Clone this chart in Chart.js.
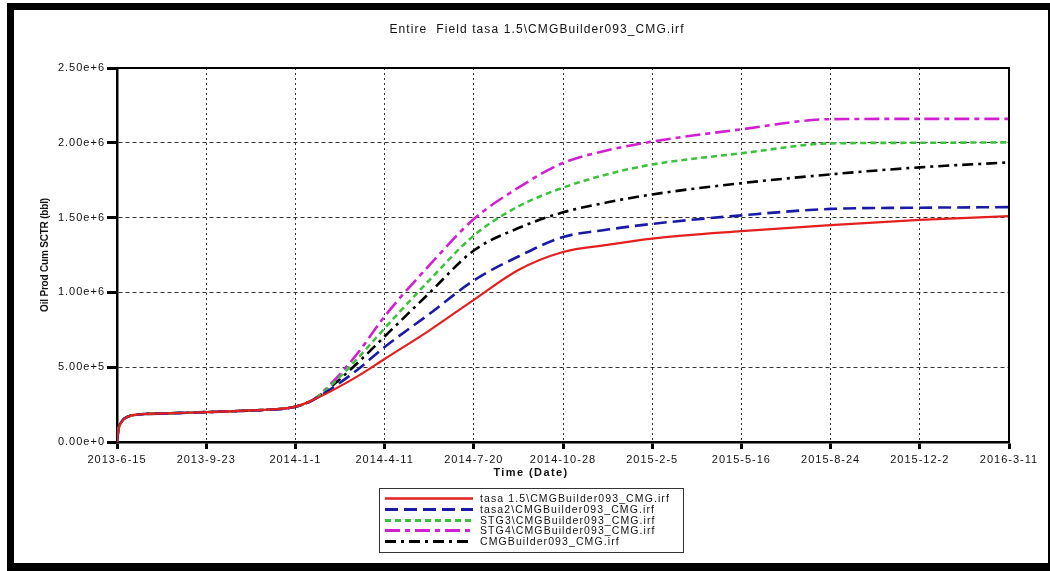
<!DOCTYPE html>
<html>
<head>
<meta charset="utf-8">
<script src="https://cdn.jsdelivr.net/npm/chart.js@4.4.0/dist/chart.umd.min.js"></script>
<style>
  html, body { margin:0; padding:0; background:#fff; }
  body { width:1050px; height:571px; position:relative; overflow:hidden; font-family:"Liberation Sans", Arial, sans-serif; }
  #wrap { position:absolute; left:0; top:0; width:1050px; height:571px; }
  #frame { position:absolute; left:7px; top:3px; right:0; bottom:0; border-left:7px solid #000; border-top:7px solid #000; border-right:2px solid #000; border-bottom:8px solid #000; pointer-events:none; }
  #title { position:absolute; left:337px; width:400px; top:22px; text-align:center; font-size:12px; letter-spacing:1.1px; color:#111; }
  #xtitle { position:absolute; left:431px; width:200px; top:466px; text-align:center; font-weight:bold; font-size:11px; letter-spacing:1.4px; color:#111; }
  #ytitle { position:absolute; left:-55px; width:200px; top:249px; text-align:center; font-weight:bold; font-size:10px; letter-spacing:-0.2px; color:#111; transform:rotate(-90deg); transform-origin:50% 50%; line-height:12px; }
  #legend { position:absolute; left:379px; top:488px; width:305px; height:65px; border:1px solid #333; box-sizing:border-box; }
  .row { position:absolute; left:0; height:11px; width:300px; }
  .row svg { position:absolute; left:5px; top:0; }
  .row span { position:absolute; left:100px; top:-1px; font-size:10.5px; letter-spacing:1.1px; color:#111; white-space:nowrap; line-height:12px; }
</style>
</head>
<body>
<div id="wrap"><canvas id="c"></canvas></div>
<div id="title">Entire&nbsp; Field tasa 1.5\CMGBuilder093_CMG.irf</div>
<div id="xtitle">Time (Date)</div>
<div id="ytitle">Oil Prod Cum SCTR (bbl)</div>
<div id="legend"></div>
<div id="frame"></div>
<script>
// x positions: days since 2013-6-15
const dayOffsets = [0, 1.5, 5, 12, 25, 55, 100, 150, 200, 220, 240, 270, 300, 350, 400, 450, 500, 550, 600, 700, 800, 900, 1000];

const tasa15   = [0, 80000, 135000, 169000, 184000, 191000, 200000, 211000, 236000, 282000, 340000, 440000, 555000, 745000, 950000, 1150000, 1270000, 1318000, 1360000, 1410000, 1450000, 1485000, 1510000];
const tasa2    = [0, 80000, 135000, 169000, 184000, 191000, 200000, 211000, 236000, 282000, 355000, 485000, 635000, 855000, 1080000, 1240000, 1370000, 1420000, 1458000, 1515000, 1558000, 1566000, 1570000];
const stg3     = [0, 80000, 135000, 169000, 184000, 191000, 200000, 211000, 236000, 282000, 380000, 560000, 760000, 1080000, 1380000, 1575000, 1700000, 1790000, 1855000, 1930000, 1996000, 2000000, 2003000];
const stg4     = [0, 80000, 135000, 169000, 184000, 191000, 200000, 211000, 236000, 282000, 390000, 595000, 840000, 1180000, 1490000, 1700000, 1865000, 1950000, 2008000, 2090000, 2158000, 2160000, 2160000];
const cmgBase  = [0, 80000, 135000, 169000, 184000, 191000, 200000, 211000, 236000, 282000, 370000, 530000, 705000, 995000, 1280000, 1430000, 1535000, 1602000, 1655000, 1730000, 1789000, 1836000, 1869000];

const seriesNames = [
  "tasa 1.5\\CMGBuilder093_CMG.irf",
  "tasa2\\CMGBuilder093_CMG.irf",
  "STG3\\CMGBuilder093_CMG.irf",
  "STG4\\CMGBuilder093_CMG.irf",
  "CMGBuilder093_CMG.irf"
];
const seriesValues = [tasa15, tasa2, stg3, stg4, cmgBase];
const seriesColors = ["#e3201f", "#1a1aa6", "#3cc23c", "#d21fd2", "#000000"];
const seriesDash   = [[], [13, 6], [6, 4], [15, 5, 5, 5], [11, 5, 3, 5]];
const seriesWidth  = [2.2, 2.6, 2.6, 2.6, 2.6];

const xTickLabels = ["2013-6-15", "2013-9-23", "2014-1-1", "2014-4-11", "2014-7-20", "2014-10-28", "2015-2-5", "2015-5-16", "2015-8-24", "2015-12-2", "2016-3-11"];
const yTickLabels = ["0.00e+0", "5.00e+5", "1.00e+6", "1.50e+6", "2.00e+6", "2.50e+6"];

const datasets = seriesNames.map((name, i) => ({
  label: name,
  data: dayOffsets.map((d, j) => ({ x: d, y: seriesValues[i][j] })),
  borderColor: seriesColors[i],
  borderWidth: seriesWidth[i],
  borderDash: seriesDash[i],
  pointRadius: 0,
  fill: false,
  cubicInterpolationMode: 'monotone'
}));

const tickFont = { family: "'Liberation Sans', Arial, sans-serif", size: 11 };

const spacingPlugin = {
  id: 'spacing',
  beforeInit(chart) { chart.ctx.letterSpacing = '1px'; },
  beforeDraw(chart) { chart.ctx.letterSpacing = '1px'; }
};
const framePlugin = {
  id: 'frameBox',
  afterDraw(chart) {
    const { ctx, chartArea: a } = chart;
    ctx.save();
    ctx.strokeStyle = '#000';
    ctx.lineWidth = 2;
    ctx.beginPath();
    ctx.moveTo(a.left, a.top);
    ctx.lineTo(a.right, a.top);
    ctx.lineTo(a.right, a.bottom);
    ctx.stroke();
    ctx.restore();
  }
};

new Chart(document.getElementById('c'), {
  type: 'line',
  data: { datasets },
  plugins: [spacingPlugin, framePlugin],
  options: {
    responsive: true,
    maintainAspectRatio: false,
    animation: false,
    layout: { padding: { left: 30, top: 68, right: 41, bottom: 107 } },
    plugins: { legend: { display: false }, title: { display: false }, tooltip: { enabled: false } },
    scales: {
      x: {
        type: 'linear',
        min: 0, max: 1000,
        afterFit(s) { s.height = 22; },
        afterBuildTicks(s) { s.ticks = xTickLabels.map((t, i) => ({ value: i * 100 })); },
        ticks: {
          autoSkip: false, maxRotation: 0, padding: 4.5, color: '#111', font: tickFont,
          callback: (v, i) => xTickLabels[i]
        },
        grid: { color: '#333', lineWidth: 1, tickLength: 7, tickWidth: 3, tickColor: '#000' },
        border: { display: true, color: '#000', width: 2.5, dash: [2, 3] }
      },
      y: {
        min: 0, max: 2500000,
        afterFit(s) { s.width = 87; },
        afterBuildTicks(s) { s.ticks = yTickLabels.map((t, i) => ({ value: i * 500000 })); },
        ticks: {
          padding: 2, color: '#111', font: tickFont,
          callback: (v, i) => yTickLabels[i]
        },
        grid: { color: '#333', lineWidth: 1, tickLength: 10, tickWidth: 3, tickColor: '#000' },
        border: { display: true, color: '#000', width: 2.5, dash: [4, 3] }
      }
    }
  }
});

// HTML legend built from the series arrays
const legend = document.getElementById('legend');
const rowTops = [4, 15, 25.5, 36, 46.5];
seriesNames.forEach((name, i) => {
  const row = document.createElement('div');
  row.className = 'row';
  row.style.top = rowTops[i] + 'px';
  const dash = seriesDash[i].length ? seriesDash[i].join(' ') : 'none';
  row.innerHTML = '<svg width="88" height="11"><line x1="0" y1="5.5" x2="88" y2="5.5" stroke="' + seriesColors[i] +
    '" stroke-width="' + (seriesWidth[i] + 0.3) + '" stroke-dasharray="' + dash + '"/></svg><span></span>';
  row.querySelector('span').textContent = name;
  legend.appendChild(row);
});
</script>
</body>
</html>
